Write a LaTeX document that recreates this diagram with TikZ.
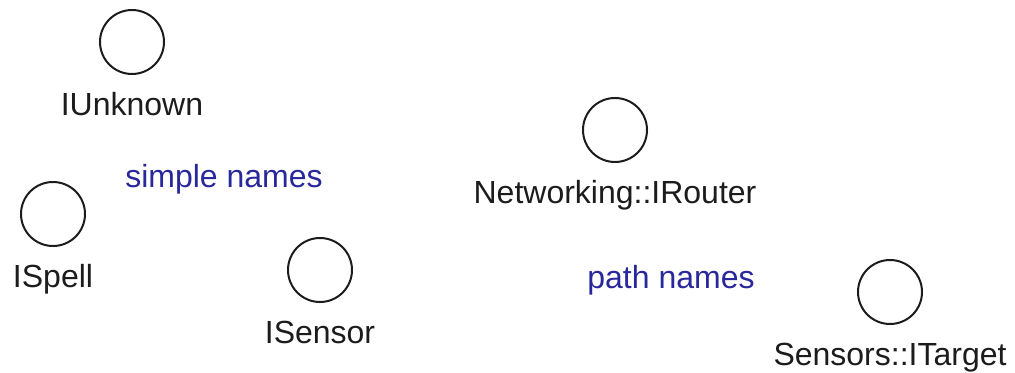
\documentclass[tikz,border=0pt]{standalone}
\usepackage{fontspec}
\setmainfont{Liberation Sans}
\usepackage{tikz}
\usetikzlibrary{positioning}
\definecolor{notecol}{HTML}{28289C}
\definecolor{inkcol}{HTML}{1C1C1C}

\begin{document}
\begin{tikzpicture}[x=0.5pt, y=-0.5pt, font=\fontsize{16}{19}\selectfont,
  iface/.style={circle, draw=inkcol, line width=1pt, minimum size=32pt, inner sep=0pt},
  ifname/.style={below=8pt of #1, inner sep=0pt, text height=12pt, text depth=3.5pt, text=inkcol},
  note/.style={anchor=base, inner sep=0pt, text=notecol}]
  \useasboundingbox (0,0) rectangle (1015,373);
  % simple names
  \node[iface] (unknown) at (132,42) {};
  \node[ifname=unknown] (unknownname) {IUnknown};
  \node[iface] (spell) at (53,214) {};
  \node[ifname=spell] (spellname) {ISpell};
  \node[iface] (sensor) at (320,270) {};
  \node[ifname=sensor] (sensorname) {ISensor};
  \node[note] (simplenote) at (224,188) {simple names};
  % path names
  \node[iface] (router) at (615,130) {};
  \node[ifname=router] (routername) {Networking::IRouter};
  \node[iface] (target) at (890,292) {};
  \node[ifname=target] (targetname) {Sensors::ITarget};
  \node[note] (pathnote) at (671,289) {path names};
\end{tikzpicture}
\end{document}
